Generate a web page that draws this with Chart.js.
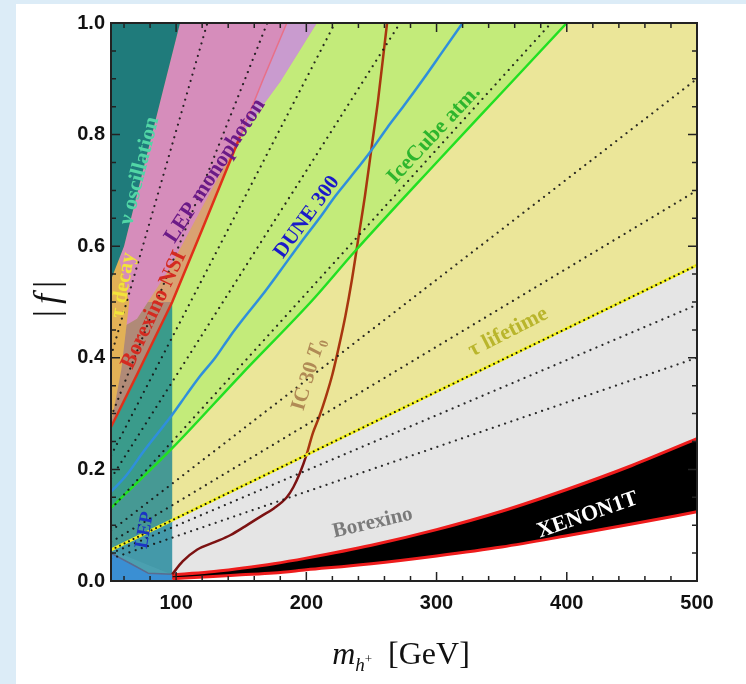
<!DOCTYPE html>
<html>
<head>
<meta charset="utf-8">
<script src="https://cdn.jsdelivr.net/npm/chart.js@4.4.0/dist/chart.umd.min.js"></script>
<style>
  html, body { margin: 0; padding: 0; background: #dcecf7; }
  #card { position: absolute; left: 16px; top: 4px; right: 0; bottom: 0; background: #fff; }
  #wrap { position: absolute; left: 0; top: 0; width: 746px; height: 684px; }
</style>
</head>
<body>
<div id="card"></div>
<div id="wrap"><canvas id="fig" width="746" height="684"></canvas></div>
<script>
// ---- boundary curves (x = m_h+ in GeV, y = |f|) ----
const tauLifeX = [50, 500];
const tauLifeY = [0.0556, 0.566];

const iceCubeX = [50, 97, 150, 205, 237, 300, 350, 400];
const iceCubeY = [0.131, 0.238, 0.37, 0.504, 0.59, 0.75, 0.875, 1.0];

const duneX = [50, 62, 75, 87, 97, 108, 118, 130, 141, 151, 166, 180, 195, 210, 222, 234, 249, 262, 275, 290, 305, 320];
const duneY = [0.160, 0.19, 0.232, 0.268, 0.298, 0.334, 0.366, 0.40, 0.437, 0.468, 0.512, 0.556, 0.604, 0.65, 0.689, 0.724, 0.769, 0.812, 0.852, 0.90, 0.95, 1.0];

const xenonX = [97, 125, 150, 175, 200, 250, 300, 350, 400, 450, 500];
const xenonUpY = [0.011, 0.016, 0.023, 0.031, 0.041, 0.064, 0.092, 0.125, 0.164, 0.207, 0.255];
const xenonLowY = [0.004, 0.0075, 0.011, 0.0145, 0.020, 0.031, 0.045, 0.061, 0.081, 0.102, 0.124];

const ic30X = [97, 105, 116, 130, 141.5, 153, 164.5, 175, 185, 190, 195, 200, 205, 210, 215, 220, 225, 230, 235, 240, 245, 250, 255, 262];
const ic30Y = [0.012, 0.035, 0.056, 0.07, 0.082, 0.098, 0.115, 0.13, 0.15, 0.168, 0.193, 0.225, 0.265, 0.295, 0.33, 0.37, 0.42, 0.475, 0.54, 0.615, 0.69, 0.775, 0.86, 1.0];

const nsiX = [50, 70, 97, 120, 149];
const nsiY = [0.276, 0.37, 0.50, 0.63, 0.796];
const nsiUpX = [149, 167, 185];
const nsiUpY = [0.796, 0.90, 1.0];

const oscEdgeX = [50, 60, 75, 90, 103];
const oscEdgeY = [0.54, 0.60, 0.74, 0.88, 1.0];
const monoRightX = [208, 180, 149];
const monoRightY = [1.0, 0.895, 0.796];
const monoLowX = [120, 95, 70, 55];
const monoLowY = [0.67, 0.56, 0.47, 0.45];

const tauDecayX = [50, 50, 56, 64, 58];
const tauDecayY = [0.28, 0.56, 0.58, 0.50, 0.38];

const lepEdgeX = [50, 66, 78.5, 97];
const lepEdgeY = [0.05, 0.03, 0.014, 0.012];
const lepMass = 97;
const lepTop = 0.5;

// dotted contours: start at m = 50 GeV, end at the frame
const contourStartY = [0.403, 0.294, 0.225, 0.184, 0.129, 0.09, 0.07, 0.0495, 0.04];
const contourEndX = [124, 170, 222, 272, 388, 500, 500, 500, 500];
const contourEndY = [1, 1, 1, 1, 1, 0.90, 0.70, 0.495, 0.40];

const P = (xs, ys) => xs.map((x, i) => ({ x: x, y: ys[i] }));
const rev = a => a.slice().reverse();

function region(data, color) {
    return { data: data, fill: 'shape', backgroundColor: color, borderWidth: 0, pointRadius: 0 };
}
function curve(data, color, width, dash, smooth) {
    return { data: data, fill: false, borderColor: color, borderWidth: width, borderDash: dash || [],
             borderCapStyle: dash ? 'round' : 'butt', pointRadius: 0,
             cubicInterpolationMode: smooth ? 'monotone' : 'default' };
}

const ic30Curve = curve(P(ic30X, ic30Y), '#a8360f', 2.5, null, true);
ic30Curve.segment = { borderColor: c => (c.p0.parsed.y < 0.2 ? '#7c1212' : '#a8360f') };

const layers = [
    region([...P(tauLifeX, tauLifeY), { x: 500, y: 1 }, { x: 50, y: 1 }], '#ebe699'),
    region([...P(iceCubeX, iceCubeY), { x: 50, y: 1 }], '#c3eb7a'),
    region([...P(xenonX, xenonUpY), ...rev(P(tauLifeX, tauLifeY))], '#e5e5e5'),
    region([...P(xenonX, xenonUpY), ...rev(P(xenonX, xenonLowY))], '#000000'),
    region([{ x: 50, y: 0 }, { x: lepMass, y: 0 }, { x: lepMass, y: lepTop }, { x: 50, y: lepTop }], 'rgba(6,124,146,0.72)'),
    region([...P(lepEdgeX, lepEdgeY), { x: lepMass, y: 0 }, { x: 50, y: 0 }], '#3a8fd3'),
    region([...P(nsiX, nsiY), ...P(nsiUpX, nsiUpY).slice(1), { x: 50, y: 1 }], 'rgba(226,131,111,0.7)'),
    region([...P(oscEdgeX, oscEdgeY), ...P(monoRightX, monoRightY), ...P(monoLowX, monoLowY)], '#d68dbb'),
    region([...P(nsiUpX, nsiUpY), ...P(monoRightX, monoRightY)], '#c99bcf'),
    region(P(tauDecayX, tauDecayY), '#e2b156'),
    region([...P(oscEdgeX, oscEdgeY), { x: 50, y: 1 }], '#1f7b7b'),
    curve(P(lepEdgeX, lepEdgeY), '#5a6b8f', 1.5),
    curve(P(xenonX, xenonUpY), '#ee1c1c', 3, null, true),
    curve(P(xenonX, xenonLowY), '#ee1c1c', 3, null, true),
    ic30Curve,
    curve(P(tauLifeX, tauLifeY), '#f4f21c', 3),
    curve(P(duneX, duneY), '#2f8fdc', 2.5, null, true),
    curve(P(iceCubeX, iceCubeY), '#22e022', 2.5, null, true),
    curve(P(nsiX, nsiY), '#e0301a', 2.5),
    curve(P(nsiUpX, nsiUpY), '#e87088', 1.5)
];
contourStartY.forEach((y0, i) => {
    layers.push(curve([{ x: 50, y: y0 }, { x: contourEndX[i], y: contourEndY[i] }], 'rgba(20,20,20,0.9)', 2.2, [0.01, 6.5]));
});
layers.push(curve(P(tauLifeX, tauLifeY), '#111', 2, [0.01, 5]));
layers.forEach((d, i) => { d.order = layers.length - i; });

const figureLabels = [
    { text: 'ν oscillation', x: 72, y: 0.735, angle: -76, color: '#52d6a6', size: 22 },
    { text: 'τ decay', x: 59.5, y: 0.53, angle: -80, color: '#f2e43a', size: 21 },
    { text: 'LEP monophoton', x: 130, y: 0.735, angle: -57, color: '#6b1a87', size: 22 },
    { text: 'Borexino NSI', x: 83, y: 0.486, angle: -65, color: '#d42a20', size: 22 },
    { text: 'DUNE 300', x: 200.5, y: 0.652, angle: -54, color: '#1a1ac8', size: 21 },
    { text: 'IceCube atm.', x: 298, y: 0.80, angle: -47, color: '#2db52d', size: 22 },
    { text: 'τ lifetime', x: 355, y: 0.446, angle: -27, color: '#b9b52c', size: 22 },
    { text: 'Borexino', x: 251, y: 0.104, angle: -13, color: '#7a7a7a', size: 21 },
    { text: 'XENON1T', x: 416, y: 0.118, angle: -19, color: '#ffffff', size: 22 },
    { text: 'LEP', x: 76, y: 0.091, angle: -80, color: '#1c34c4', size: 19 }
];
const ic30Label = { x: 202, y: 0.37, angle: -73, color: '#b08a55', size: 21 };

const serif = '"Liberation Serif", "Times New Roman", serif';

const labelPlugin = {
    id: 'labels',
    afterDatasetsDraw(chart) {
        const ctx = chart.ctx, xs = chart.scales.x, ys = chart.scales.y;
        ctx.save();
        ctx.textBaseline = 'middle';
        figureLabels.forEach(l => {
            ctx.save();
            ctx.translate(xs.getPixelForValue(l.x), ys.getPixelForValue(l.y));
            ctx.rotate(l.angle * Math.PI / 180);
            ctx.font = 'bold ' + l.size + 'px ' + serif;
            ctx.textAlign = 'center';
            ctx.fillStyle = l.color;
            ctx.fillText(l.text, 0, 0);
            ctx.restore();
        });
        // IC 30 T_0
        const s = ic30Label.size;
        ctx.save();
        ctx.translate(xs.getPixelForValue(ic30Label.x), ys.getPixelForValue(ic30Label.y));
        ctx.rotate(ic30Label.angle * Math.PI / 180);
        ctx.fillStyle = ic30Label.color;
        ctx.textAlign = 'left';
        const a = 'IC 30 ';
        ctx.font = 'bold ' + s + 'px ' + serif;
        const wa = ctx.measureText(a).width;
        ctx.font = 'italic bold ' + s + 'px ' + serif;
        const wt = ctx.measureText('T').width;
        ctx.font = 'bold ' + Math.round(s * 0.62) + 'px ' + serif;
        const w0 = ctx.measureText('0').width;
        const x0 = -(wa + wt + w0) / 2;
        ctx.font = 'bold ' + s + 'px ' + serif;
        ctx.fillText(a, x0, 0);
        ctx.font = 'italic bold ' + s + 'px ' + serif;
        ctx.fillText('T', x0 + wa, 0);
        ctx.font = 'bold ' + Math.round(s * 0.62) + 'px ' + serif;
        ctx.fillText('0', x0 + wa + wt, 6);
        ctx.restore();
        ctx.restore();
    }
};

const framePlugin = {
    id: 'frame',
    afterDraw(chart) {
        const ctx = chart.ctx, a = chart.chartArea, xs = chart.scales.x, ys = chart.scales.y;
        ctx.save();
        ctx.strokeStyle = '#222';
        ctx.lineWidth = 1.5;
        ctx.beginPath();
        for (let v = 60; v < 500; v += 20) {
            const p = xs.getPixelForValue(v);
            const len = v % 100 === 0 ? 9 : 5;
            ctx.moveTo(p, a.bottom); ctx.lineTo(p, a.bottom - len);
            ctx.moveTo(p, a.top); ctx.lineTo(p, a.top + len);
        }
        for (let k = 1; k < 20; k++) {
            const p = ys.getPixelForValue(k * 0.05);
            const len = k % 4 === 0 ? 9 : 5;
            ctx.moveTo(a.left, p); ctx.lineTo(a.left + len, p);
            ctx.moveTo(a.right, p); ctx.lineTo(a.right - len, p);
        }
        ctx.stroke();
        ctx.lineWidth = 2;
        ctx.strokeRect(a.left, a.top, a.right - a.left, a.bottom - a.top);

        // axis titles
        ctx.fillStyle = '#111';
        ctx.textBaseline = 'alphabetic';
        ctx.textAlign = 'left';
        const base = 664;
        const parts = [
            { t: 'm', f: 'italic 32px ' + serif, dy: 0 },
            { t: 'h', f: 'italic 19px ' + serif, dy: 7 },
            { t: '+', f: '13px ' + serif, dy: -1 },
            { t: '  [GeV]', f: '32px ' + serif, dy: 0 }
        ];
        let total = 0;
        parts.forEach(p => { ctx.font = p.f; p.w = ctx.measureText(p.t).width; total += p.w; });
        let x = 401 - total / 2;
        parts.forEach(p => { ctx.font = p.f; ctx.fillText(p.t, x, base + p.dy); x += p.w; });

        ctx.save();
        ctx.translate(58, 296);
        ctx.rotate(-Math.PI / 2);
        const yp = [
            { t: '|', f: '36px ' + serif },
            { t: 'f', f: 'italic 36px ' + serif },
            { t: '|', f: '36px ' + serif }
        ];
        let tw = 0;
        yp.forEach(p => { ctx.font = p.f; p.w = ctx.measureText(p.t).width + 6; tw += p.w; });
        let yx = -tw / 2;
        yp.forEach(p => { ctx.font = p.f; ctx.fillText(p.t, yx, 0); yx += p.w; });
        ctx.restore();
        ctx.restore();
    }
};

const tickFont = { family: '"Liberation Sans", Arial, sans-serif', size: 20, weight: 'bold' };

new Chart(document.getElementById('fig'), {
    type: 'line',
    data: { datasets: layers },
    options: {
        responsive: false,
        animation: false,
        devicePixelRatio: 1,
        events: [],
        layout: { padding: { left: 0, right: 49, top: 23, bottom: 0 } },
        elements: { point: { radius: 0 }, line: { tension: 0, borderJoinStyle: 'round' } },
        plugins: { legend: { display: false }, tooltip: { enabled: false } },
        scales: {
            x: {
                type: 'linear', min: 50, max: 500,
                grid: { display: false, drawTicks: false }, border: { display: false },
                ticks: { stepSize: 100, autoSkip: false, maxRotation: 0, padding: 10, color: '#111', font: tickFont,
                         callback: v => (v % 100 === 0 ? String(v) : '') },
                afterFit: s => { s.height = 103; }
            },
            y: {
                type: 'linear', min: 0, max: 1,
                grid: { display: false, drawTicks: false }, border: { display: false },
                ticks: { stepSize: 0.2, padding: 6, color: '#111', font: tickFont,
                         callback: v => v.toFixed(1) },
                afterFit: s => { s.width = 111; }
            }
        }
    },
    plugins: [labelPlugin, framePlugin]
});
</script>
</body>
</html>
